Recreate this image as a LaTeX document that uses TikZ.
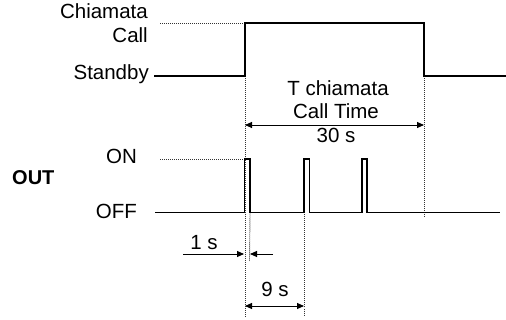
\documentclass[tikz,border=0pt]{standalone}
\usepackage{fontspec}
\setmainfont{Liberation Sans}
\usetikzlibrary{arrows.meta}
\begin{document}
\begin{tikzpicture}[x=1pt,y=-1pt,
  sig/.style={line width=1.4pt,line join=miter},
  dots/.style={line width=0.9pt,dash pattern=on 1pt off 1pt,black!80},
  dim/.style={line width=0.9pt,-{Triangle[length=7pt,width=6pt]}},
  dimboth/.style={line width=0.9pt,{Triangle[length=7pt,width=6pt]}-{Triangle[length=7pt,width=6pt]}},
  lbl/.style={inner sep=0pt,font=\fontsize{20.5}{24}\selectfont}]
\useasboundingbox (0,0) rectangle (506,320);
% labels
\node[lbl,anchor=base east] (chiam) at (148,18.5) {Chiamata};
\node[lbl,anchor=base east] (call) at (148,43) {Call};
\node[lbl,anchor=base east] (stby) at (149,80) {Standby};
\node[lbl,anchor=base east] (on) at (137,164) {ON};
\node[lbl,anchor=base east] (off) at (137,218.5) {OFF};
\node[lbl,anchor=base west,font=\fontsize{20}{24}\selectfont\bfseries] (out) at (12,185) {OUT};
\node[lbl,anchor=base] (tch) at (338,95.5) {T chiamata};
\node[lbl,anchor=base] (ctime) at (336,119) {Call Time};
\node[lbl,anchor=base] (thirty) at (336,143) {30 s};
\node[lbl,anchor=base] (one) at (204,250) {1 s};
\node[lbl,anchor=base] (nine) at (275,297) {9 s};
% coordinates
\coordinate (c0) at (154,76);
\coordinate (c1) at (245,76);
\coordinate (c2) at (245,23);
\coordinate (c3) at (424,23);
\coordinate (c4) at (424,76);
\coordinate (c5) at (506,76);
\coordinate (ch0) at (160,23);
\coordinate (o0) at (155,212.5);
\coordinate (p1a) at (244.5,212.5);
\coordinate (p1b) at (244.5,159);
\coordinate (p1c) at (250,159);
\coordinate (p1d) at (250,212.5);
\coordinate (p2a) at (304,212.5);
\coordinate (p2b) at (304,159);
\coordinate (p2c) at (309.5,159);
\coordinate (p2d) at (309.5,212.5);
\coordinate (p3a) at (362,212.5);
\coordinate (p3b) at (362,159);
\coordinate (p3c) at (367,159);
\coordinate (p3d) at (367,212.5);
\coordinate (oe) at (500,212.5);
\coordinate (on0) at (160,159);
\coordinate (v1b) at (245,318);
\coordinate (v2b) at (249.5,261);
\coordinate (v3b) at (304,316);
\coordinate (v4b) at (424,218);
\coordinate (a30l) at (245,125);
\coordinate (a30r) at (424,125);
\coordinate (a1l0) at (183,254);
\coordinate (a1l1) at (244,254);
\coordinate (a1r0) at (273,254);
\coordinate (a1r1) at (250,254);
\coordinate (a9l) at (245,306);
\coordinate (a9r) at (304,306);
% dotted guides
\draw[dots] (ch0) -- (c2);
\draw[dots] (on0) -- (p1b);
\draw[dots] (c1) -- (v1b);
\draw[dots] (p1d) -- (v2b);
\draw[dots] (p2a) -- (v3b);
\draw[dots] (c4) -- (v4b);
% signals
\draw[sig] (c0) -- (c1) -- (c2) -- (c3) -- (c4) -- (c5);
\draw[sig] (o0) -- (p1a) -- (p1b) -- (p1c) -- (p1d) -- (p2a) -- (p2b) -- (p2c) -- (p2d) -- (p3a) -- (p3b) -- (p3c) -- (p3d) -- (oe);
% dimensions
\draw[dimboth] (a30l) -- (a30r);
\draw[dim] (a1l0) -- (a1l1);
\draw[dim] (a1r0) -- (a1r1);
\draw[dimboth] (a9l) -- (a9r);
\end{tikzpicture}
\end{document}
